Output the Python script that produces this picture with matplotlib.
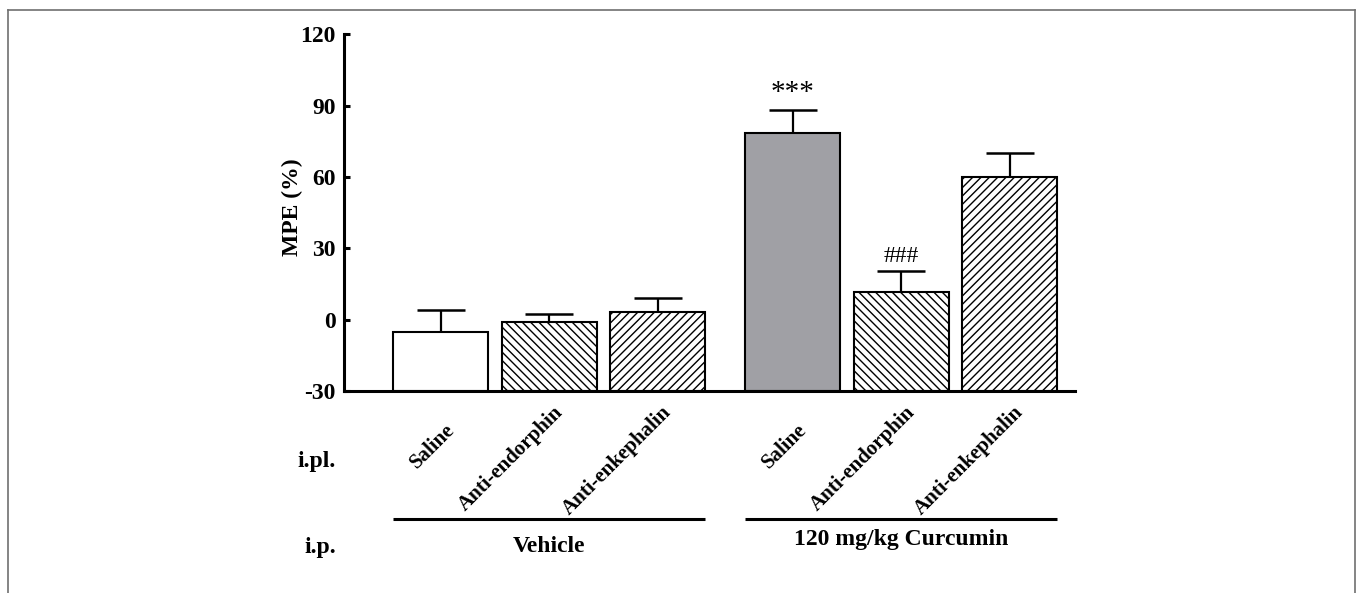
import matplotlib
matplotlib.use("agg")
import matplotlib.pyplot as plt
from matplotlib.transforms import blended_transform_factory
from matplotlib.lines import Line2D
import numpy as np

plt.rcParams['font.family'] = ['Liberation Serif', 'DejaVu Serif']
plt.rcParams['hatch.linewidth'] = 1.0
plt.rcParams['hatch.color'] = 'black'
plt.rcParams['axes.unicode_minus'] = False

# 数据
groups = ['Vehicle', '120 mg/kg Curcumin']
treatments = ['Saline', 'Anti-endorphin', 'Anti-enkephalin']
mpe_vehicle = [-5.0, -1.0, 3.1]
sem_vehicle = [9.2, 3.5, 5.9]
mpe_curcumin = [78.4, 11.6, 60.0]
sem_curcumin = [9.8, 8.7, 10.1]
sig_marks = ['', '', '', '***', '###', '']
yticks = [-30, 0, 30, 60, 90, 120]

W, H = 1357, 593
fig = plt.figure(figsize=(W / 100, H / 100), dpi=100)
ax = fig.add_axes([344.3 / W, 1 - 391 / H, (1075 - 344.3) / W, (391 - 34.3) / H])

ymin, ymax = yticks[0], yticks[-1]
pos = np.array([1, 2, 3, 4.24, 5.24, 6.24])
vals = np.array(mpe_vehicle + mpe_curcumin)
errs = np.array(sem_vehicle + sem_curcumin)
width = 0.875
faces = ['white', 'white', 'white', '#a0a0a5', 'white', 'white']
hatches = [None, '\\\\\\\\', '////', None, '\\\\\\\\', '////']

# 误差线，只画上半部分
ax.errorbar(pos, vals, yerr=[np.zeros_like(errs), errs], fmt='none',
            ecolor='black', elinewidth=1.6, capsize=17, capthick=1.8, zorder=1)
# 柱子从坐标轴底部画起
for i in range(len(pos)):
    ax.bar(pos[i], vals[i] - ymin, bottom=ymin, width=width, color=faces[i],
           edgecolor='black', linewidth=1.5, hatch=hatches[i], zorder=2)

# 显著性标记
for i, m in enumerate(sig_marks):
    if not m:
        continue
    fs = 21 if m == '***' else 17
    ax.annotate(m, (pos[i], vals[i] + errs[i]), xytext=(0, 3),
                textcoords='offset points', ha='center', va='bottom', fontsize=fs)

ax.set_xlim(0.112, 6.84)
ax.set_ylim(ymin, ymax)
ax.set_yticks(yticks)
ax.set_xticks([])
ax.spines['top'].set_visible(False)
ax.spines['right'].set_visible(False)
ax.spines['left'].set_linewidth(2.2)
ax.spines['bottom'].set_linewidth(2.2)
ax.tick_params(axis='y', direction='in', length=4, width=2.2, pad=6, labelsize=17)
for lab in ax.get_yticklabels():
    lab.set_fontweight('bold')
ax.set_ylabel('MPE (%)', fontsize=17, fontweight='bold')
ax.yaxis.set_label_coords(-0.0565, 0.514)

# 下方的标签
trans = blended_transform_factory(ax.transData, fig.transFigure)
label_top = [420, 402, 402]
for g in range(2):
    for k in range(3):
        i = g * 3 + k
        ax.text(pos[i] + 0.035, 1 - label_top[k] / H, treatments[k], transform=trans,
                rotation=45, rotation_mode='anchor', ha='right', va='top',
                fontsize=15, fontweight='bold')
    x0 = pos[g * 3] - width / 2
    x1 = pos[g * 3 + 2] + width / 2
    ax.plot([x0, x1], [1 - 519.3 / H] * 2, transform=trans, color='black',
            lw=2.2, clip_on=False, solid_capstyle='butt')
group_y = [547, 540]
for g in range(2):
    ax.text(pos[g * 3 + 1], 1 - group_y[g] / H, groups[g], transform=trans,
            ha='center', va='center', fontsize=17, fontweight='bold')

fig.text(336 / W, 1 - 462 / H, 'i.pl.', ha='right', va='center', fontsize=17, fontweight='bold')
fig.text(336 / W, 1 - 547 / H, 'i.p.', ha='right', va='center', fontsize=17, fontweight='bold')

# 外框
for xs, ys in [([8, 8], [593, 10]), ([8, 1355], [10, 10]), ([1355, 1355], [10, 593])]:
    fig.add_artist(Line2D([x / W for x in xs], [1 - y / H for y in ys],
                          color='#707070', lw=1.2, transform=fig.transFigure))

fig.savefig('out.png', dpi=100)
